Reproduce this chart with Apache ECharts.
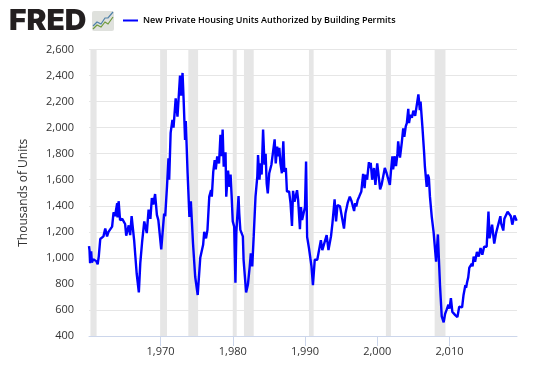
<!DOCTYPE html>
<html>
<head>
<meta charset="utf-8">
<style>html,body{margin:0;padding:0;background:#fff}#chart{width:537px;height:385px}</style>
<script src="https://cdn.jsdelivr.net/npm/echarts@6/dist/echarts.min.js"></script>
</head>
<body>
<div id="chart"></div>
<script>
var seriesName = 'New Private Housing Units Authorized by Building Permits';
var yTicks = [400, 600, 800, 1000, 1200, 1400, 1600, 1800, 2000, 2200, 2400, 2600];
var decades = [1970, 1980, 1990, 2000, 2010];
// recession start / end, decimal years
var recessions = [[1960.3, 1961.15], [1969.95, 1970.9], [1973.85, 1975.2], [1980.0, 1980.55],
    [1981.55, 1982.9], [1990.55, 1991.2], [2001.2, 2001.9], [2007.95, 2009.45]];
// [decimal year, thousands of units]
var permits = [
    [1960.1,1090],[1960.17,1060],[1960.25,960],[1960.4,1050],[1960.5,965],[1960.7,990],[1960.9,985],
    [1961.1,975],[1961.3,950],[1961.45,1010],[1961.66,1145],[1961.85,1135],
    [1962.1,1165],[1962.35,1225],[1962.6,1165],[1962.8,1200],[1963.05,1215],[1963.3,1240],[1963.5,1350],[1963.7,1320],
    [1964.0,1420],[1964.05,1310],[1964.2,1435],[1964.4,1290],[1964.7,1300],[1965.1,1260],[1965.25,1170],[1965.6,1250],[1965.8,1175],
    [1966.0,1320],[1966.2,1310],[1966.35,1135],[1966.7,880],[1967.0,735],[1967.2,960],[1967.45,1120],[1967.75,1280],
    [1968.1,1190],[1968.35,1370],[1968.6,1300],[1968.8,1460],[1969.0,1410],[1969.25,1490],[1969.5,1330],[1969.7,1290],
    [1970.1,1065],[1970.5,1340],[1970.65,1320],[1970.9,1550],[1971.1,1765],[1971.2,1600],[1971.4,1960],[1971.65,2060],[1971.8,2000],
    [1972.1,2225],[1972.35,2085],[1972.7,2400],[1972.85,2245],[1973.05,2420],[1973.2,2215],[1973.4,1905],[1973.5,2050],[1973.75,1650],
    [1974.0,1315],[1974.2,1435],[1974.5,1110],[1974.8,855],[1975.15,715],[1975.5,1000],[1975.9,1100],
    [1976.05,1200],[1976.3,1150],[1976.5,1215],[1976.75,1470],[1977.0,1520],[1977.1,1470],[1977.3,1660],[1977.5,1750],[1977.65,1680],[1977.85,1780],
    [1978.1,1725],[1978.3,1945],[1978.45,1780],[1978.6,1985],[1978.75,1700],[1979.0,1810],[1979.1,1470],[1979.35,1670],[1979.55,1545],[1979.7,1640],[1979.85,1470],
    [1980.0,1280],[1980.2,1240],[1980.37,810],[1980.5,1200],[1980.8,1475],[1980.9,1340],[1981.05,1215],[1981.4,1165],[1981.5,985],[1981.85,735],
    [1982.1,795],[1982.35,935],[1982.5,1035],[1982.7,935],[1982.9,1165],[1983.15,1470],[1983.4,1625],[1983.5,1790],[1983.7,1600],[1983.85,1725],
    [1984.0,1640],[1984.2,1985],[1984.4,1715],[1984.55,1800],[1984.7,1570],[1984.85,1495],[1985.05,1650],[1985.35,1715],[1985.6,1700],[1985.8,1910],[1985.95,1725],
    [1986.15,1855],[1986.3,1780],[1986.45,1845],[1986.6,1725],[1986.8,1650],[1987.0,1895],[1987.15,1660],[1987.35,1690],[1987.5,1510],[1987.8,1510],
    [1988.0,1420],[1988.2,1245],[1988.35,1515],[1988.55,1430],[1988.9,1520],[1989.05,1445],[1989.3,1220],[1989.45,1390],[1989.6,1290],[1989.8,1340],
    [1990.0,1390],[1990.15,1740],[1990.3,1160],[1990.55,1075],[1990.9,935],[1991.1,790],[1991.35,985],[1991.7,985],[1991.95,970],
    [1992.2,1135],[1992.4,1060],[1992.65,1075],[1993.0,1175],[1993.25,1060],[1993.6,1165],[1993.8,1265],[1994.1,1450],[1994.3,1280],[1994.5,1405],[1994.85,1395],
    [1995.0,1405],[1995.4,1225],[1995.6,1340],[1995.9,1420],[1996.2,1470],[1996.45,1435],[1996.8,1360],[1996.95,1420],
    [1997.1,1395],[1997.3,1445],[1997.5,1470],[1997.8,1510],[1998.05,1645],[1998.25,1535],[1998.4,1640],[1998.6,1600],[1998.85,1735],
    [1999.0,1690],[1999.1,1730],[1999.3,1600],[1999.55,1690],[1999.75,1560],[2000.0,1725],[2000.2,1630],[2000.4,1525],[2000.6,1560],[2000.85,1545],
    [2001.05,1690],[2001.3,1650],[2001.55,1600],[2001.75,1560],[2001.9,1665],[2002.1,1780],[2002.2,1680],[2002.45,1780],[2002.6,1705],[2002.8,1800],[2002.9,1895],
    [2003.15,1770],[2003.4,1885],[2003.6,1995],[2003.75,1930],[2003.95,2010],[2004.1,2035],[2004.3,2145],[2004.4,2035],[2004.6,2100],[2004.8,2075],[2005.0,2130],[2005.25,2090],
    [2005.7,2255],[2005.9,2135],[2006.0,2200],[2006.25,2010],[2006.5,1800],[2006.6,1700],[2006.85,1545],[2007.0,1640],[2007.15,1615],[2007.3,1470],[2007.55,1315],[2007.8,1200],[2007.95,1215],
    [2008.15,970],[2008.4,1180],[2008.5,1040],[2008.7,780],[2008.93,550],[2009.2,505],[2009.4,570],[2009.6,600],[2009.85,640],[2010.0,610],[2010.2,690],[2010.4,585],[2010.6,575],[2010.8,560],
    [2011.1,545],[2011.35,625],[2011.6,640],[2011.75,620],[2011.95,715],[2012.2,790],[2012.3,770],[2012.45,815],[2012.6,850],[2012.75,925],[2013.1,955],[2013.2,935],[2013.35,1010],[2013.55,970],[2013.8,1045],[2014.05,1010],[2014.3,1075],[2014.55,1025],[2014.8,1085],
    [2015.15,1085],[2015.4,1355],[2015.55,1150],[2015.9,1255],[2016.2,1110],[2016.45,1190],[2016.65,1200],[2017.05,1320],[2017.15,1265],[2017.45,1210],[2017.6,1300],[2017.85,1290],
    [2018.05,1355],[2018.3,1370],[2018.5,1320],[2018.7,1255],[2019.0,1325],[2019.3,1285]
];

var chart = echarts.init(document.getElementById('chart'));
var font = '"Open Sans", sans-serif';

chart.setOption({
    backgroundColor: '#fff',
    animation: false,
    grid: {left: 89, top: 49.5, width: 428, height: 286.5},
    legend: {
        left: 118,
        top: 11,
        itemWidth: 15,
        itemHeight: 2,
        itemGap: 0,
        icon: 'rect',
        textStyle: {color: '#000', fontFamily: font, fontSize: 9, fontWeight: 600},
        data: [seriesName]
    },
    xAxis: {
        type: 'value',
        min: 1960.1,
        max: 2019.35,
        splitLine: {show: false},
        axisLine: {onZero: false, lineStyle: {color: '#ccd6eb'}},
        axisTick: {show: true, length: 10, customValues: decades, lineStyle: {color: '#ccd6eb'}},
        axisLabel: {color: '#333', fontFamily: font, fontSize: 11, margin: 10, customValues: decades, formatter: '{value}'}
    },
    yAxis: {
        type: 'value',
        min: 400,
        max: 2600,
        interval: 200,
        name: 'Thousands of Units',
        nameLocation: 'middle',
        nameGap: 59,
        nameTextStyle: {color: '#333', fontFamily: font, fontSize: 12},
        axisLine: {show: false},
        axisTick: {show: false},
        splitLine: {lineStyle: {color: '#e6e6e6'}},
        axisLabel: {
            color: '#333', fontFamily: font, fontSize: 11, margin: 15,
            formatter: function (v) { return yTicks.indexOf(v) < 0 ? '' : v.toLocaleString('en-US'); }
        }
    },
    series: [{
        name: seriesName,
        type: 'line',
        showSymbol: false,
        smooth: false,
        color: '#0000ff',
        lineStyle: {width: 2.4, color: '#0000ff'},
        data: permits,
        markArea: {
            silent: true,
            itemStyle: {color: '#e6e6e6'},
            data: recessions.map(function (r) { return [{xAxis: r[0]}, {xAxis: r[1]}]; })
        }
    }],
    graphic: [
        {type: 'text', left: 9, top: 7.5, scaleX: 1.07, style: {text: 'FRED', fill: '#231f20', font: '900 28px "Inter", sans-serif'}},
        {type: 'rect', left: 92, top: 11, shape: {width: 22, height: 20, r: 2}, style: {fill: '#dfe1dd'}},
        {type: 'polyline', shape: {points: [[93, 26], [97, 22], [101, 24], [105, 18], [108, 18], [113, 12]]}, style: {stroke: '#4f81a8', fill: 'none', lineWidth: 1.2}},
        {type: 'polyline', shape: {points: [[93, 29], [97, 25], [101, 27], [105, 22], [108, 24], [113, 17]]}, style: {stroke: '#6f9a3c', fill: 'none', lineWidth: 1.2}}
    ]
});
</script>
</body>
</html>
